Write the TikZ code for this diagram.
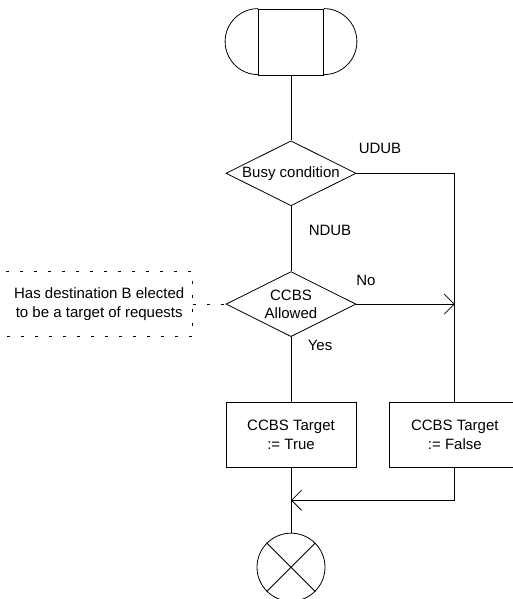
\documentclass[tikz,border=0pt]{standalone}
\usepackage{fontspec}
\setmainfont{Liberation Sans}
\usetikzlibrary{positioning,shapes.geometric,arrows.meta,calc}

\begin{document}
\begin{tikzpicture}[
  x=1pt, y=1pt,
  node distance=65pt,
  font=\fontsize{15}{18.5}\selectfont,
  line width=0.8pt,
  decision/.style={draw,diamond,minimum width=130pt,minimum height=65pt,inner sep=0pt},
  action/.style={draw,rectangle,minimum width=130pt,minimum height=65pt,align=center},
  barb/.style={-{Straight Barb[length=10pt,width=20pt]}},
  notedash/.style={dash pattern=on 3.5pt off 10.5pt}
  ]

   \useasboundingbox (0,0) rectangle (512,-599);

   \node (start) [draw,minimum width=65pt,minimum height=66pt,inner sep=0pt] at (291,-42) {} ;
   \draw (start.north west) arc[start angle=90,end angle=270,radius=33pt];
   \draw (start.north east) arc[start angle=90,end angle=-90,radius=33pt];

   \node (busy) [decision,below=of start,label=center:Busy condition] {} ;
   \node (allowed) [decision,below=of busy,label={[align=center]center:CCBS\\Allowed}] {} ;
   \node (true) [action,below=of allowed] {CCBS Target\\:= True} ;
   \node (false) [action,right=33pt of true] {CCBS Target\\:= False} ;
   \node (stop) [draw,circle,minimum size=68pt,inner sep=0pt,below=of true] {} ;
   \draw (stop.north west) -- (stop.south east);
   \draw (stop.north east) -- (stop.south west);

   \node (note) [left=33pt of allowed,minimum width=186pt,minimum height=64pt,inner sep=0pt,align=center]
     {Has destination B elected\\to be a target of requests} ;
   \draw [notedash] (note.north west) -- (note.north east) -- (note.south east) -- (note.south west);
   \draw [notedash] (note.east) -- (allowed.west);

   \draw (start) -- (busy);
   \draw (busy) -- (allowed);
   \draw (allowed) -- (true);
   \draw (true) -- (stop);
   \draw (busy.east) -| (false.north);
   \draw [barb] (allowed.east) -- (allowed.east -| false.north);

   \coordinate (merge) at ($(true.south)!0.5!(stop.north)$);
   \draw [barb] (false.south) |- (merge);

   \node (udub) at (380,-148) {UDUB} ;
   \node (ndub) at (330,-230) {NDUB} ;
   \node (no) at (366,-280) {No} ;
   \node (yes) at (320,-345) {Yes} ;

\end{tikzpicture}
\end{document}
